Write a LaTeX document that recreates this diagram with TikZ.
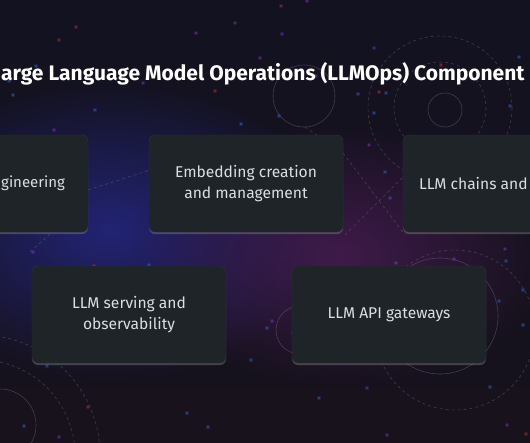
\documentclass[tikz,border=0pt]{standalone}
\usepackage{fontspec}
\setmainfont{Fira Sans}
\setsansfont{Fira Sans}
\usetikzlibrary{positioning, fadings, shadows}

\definecolor{bgtop}{HTML}{131220}
\definecolor{bgmid}{HTML}{241A44}
\definecolor{bgbot}{HTML}{17121C}
\definecolor{glowblue}{HTML}{26288A}
\definecolor{glowpurple}{HTML}{4A1D55}
\definecolor{cardfill}{HTML}{1E2427}
\definecolor{cardedge}{HTML}{2D3437}
\definecolor{cardtextc}{HTML}{DCDFE2}
\definecolor{ringc}{HTML}{7A6A90}
\definecolor{dotblue}{HTML}{3C6EE8}
\definecolor{dotpurple}{HTML}{8C3CD8}
\definecolor{dotred}{HTML}{D83444}

\tikzfading[name=glowfade, inner color=transparent!0, outer color=transparent!100]

\begin{document}
\begin{tikzpicture}[
    x=1pt, y=-1pt,
    card/.style={
        rectangle,
        draw=cardedge,
        fill=cardfill,
        rounded corners=6pt,
        minimum width=194pt,
        minimum height=97pt,
        inner sep=0pt,
        align=center,
        text=cardtextc,
        font=\fontsize{15.6}{21.5}\selectfont,
        drop shadow={opacity=0.45, shadow xshift=0pt, shadow yshift=-2pt}
    },
    cardtext/.style={
        text=cardtextc,
        inner sep=0pt,
        font=\fontsize{15}{21}\selectfont
    },
    heading/.style={
        text=white,
        inner sep=0pt,
        font=\fontsize{21}{25}\selectfont\bfseries
    },
    ring/.style={
        draw=ringc,
        opacity=0.45,
        line width=0.6pt
    },
    dashring/.style={
        ring,
        dash pattern=on 3pt off 3pt
    }
]

    % --- Canvas ---
    \useasboundingbox (0,0) rectangle (530,442);
    \clip (0,0) rectangle (530,442);
    \shade [top color=bgtop, middle color=bgmid, bottom color=bgbot] (0,0) rectangle (530,442);
    \fill [glowblue, path fading=glowfade, opacity=0.8] (110,230) ellipse (230 and 150);
    \fill [glowpurple, path fading=glowfade, opacity=0.8] (340,255) ellipse (210 and 130);

    % --- Rings and network lines ---
    \draw [ring] (304,96) circle (31);
    \draw [ring] (445,110) circle (17);
    \draw [dashring] (440,108) circle (72);
    \draw [dashring] (440,108) circle (46);
    \draw [ring] (440,316) circle (58);
    \draw [ring] (300,330) circle (24);
    \draw [dashring] (455,330) circle (80);
    \draw [ring] (0,425) circle (36);
    \draw [dashring] (-20,455) circle (95);
    \draw [dashring] (-20,455) circle (120);
    \draw [dashring] (88,190) -- (150,170);
    \draw [dashring] (343,153) -- (405,235);
    \draw [dashring] (345,235) -- (405,175);
    \draw [dashring] (305,127) -- (343,153);
    \draw [dashring] (30,252) -- (60,225);

    % --- Scattered dots ---
    \pgfmathsetseed{42}
    \foreach \i [evaluate=\i as \dc using {int(mod(\i,6))}] in {1,...,80} {
        \pgfmathsetmacro{\dx}{random(0,530)}
        \pgfmathsetmacro{\dy}{random(0,442)}
        \ifnum\dc=0 \def\dcol{dotred}\else\ifodd\dc \def\dcol{dotblue}\else \def\dcol{dotpurple}\fi\fi
        \fill [\dcol, opacity=0.2] (\dx,\dy) circle (2.2);
        \fill [\dcol, opacity=0.7] (\dx,\dy) circle (0.9);
    }

    % --- Title ---
    \node [heading, anchor=base west] (title) at (1,80) {arge Language Model Operations (LLMOps) Component};

    % --- Component cards ---
    \node [card] (prompt) at (-9,183.5) {};
    \node [card] (embed) at (246,183.5) {Embedding creation\\and management};
    \node [card] (chains) at (500,183.5) {};
    \node [card] (serving) at (129,314.5) {LLM serving and\\observability};
    \node [card] (gateway) at (389,314.5) {LLM API gateways};

    % --- Texts of the cut cards ---
    \node [cardtext, anchor=east] (prompttext) at ([xshift=-23pt]prompt.east) {gineering};
    \node [cardtext, anchor=west, font=\fontsize{15.6}{21.5}\selectfont] (chainstext) at ([xshift=16pt]chains.west) {LLM chains and};

\end{tikzpicture}
\end{document}
